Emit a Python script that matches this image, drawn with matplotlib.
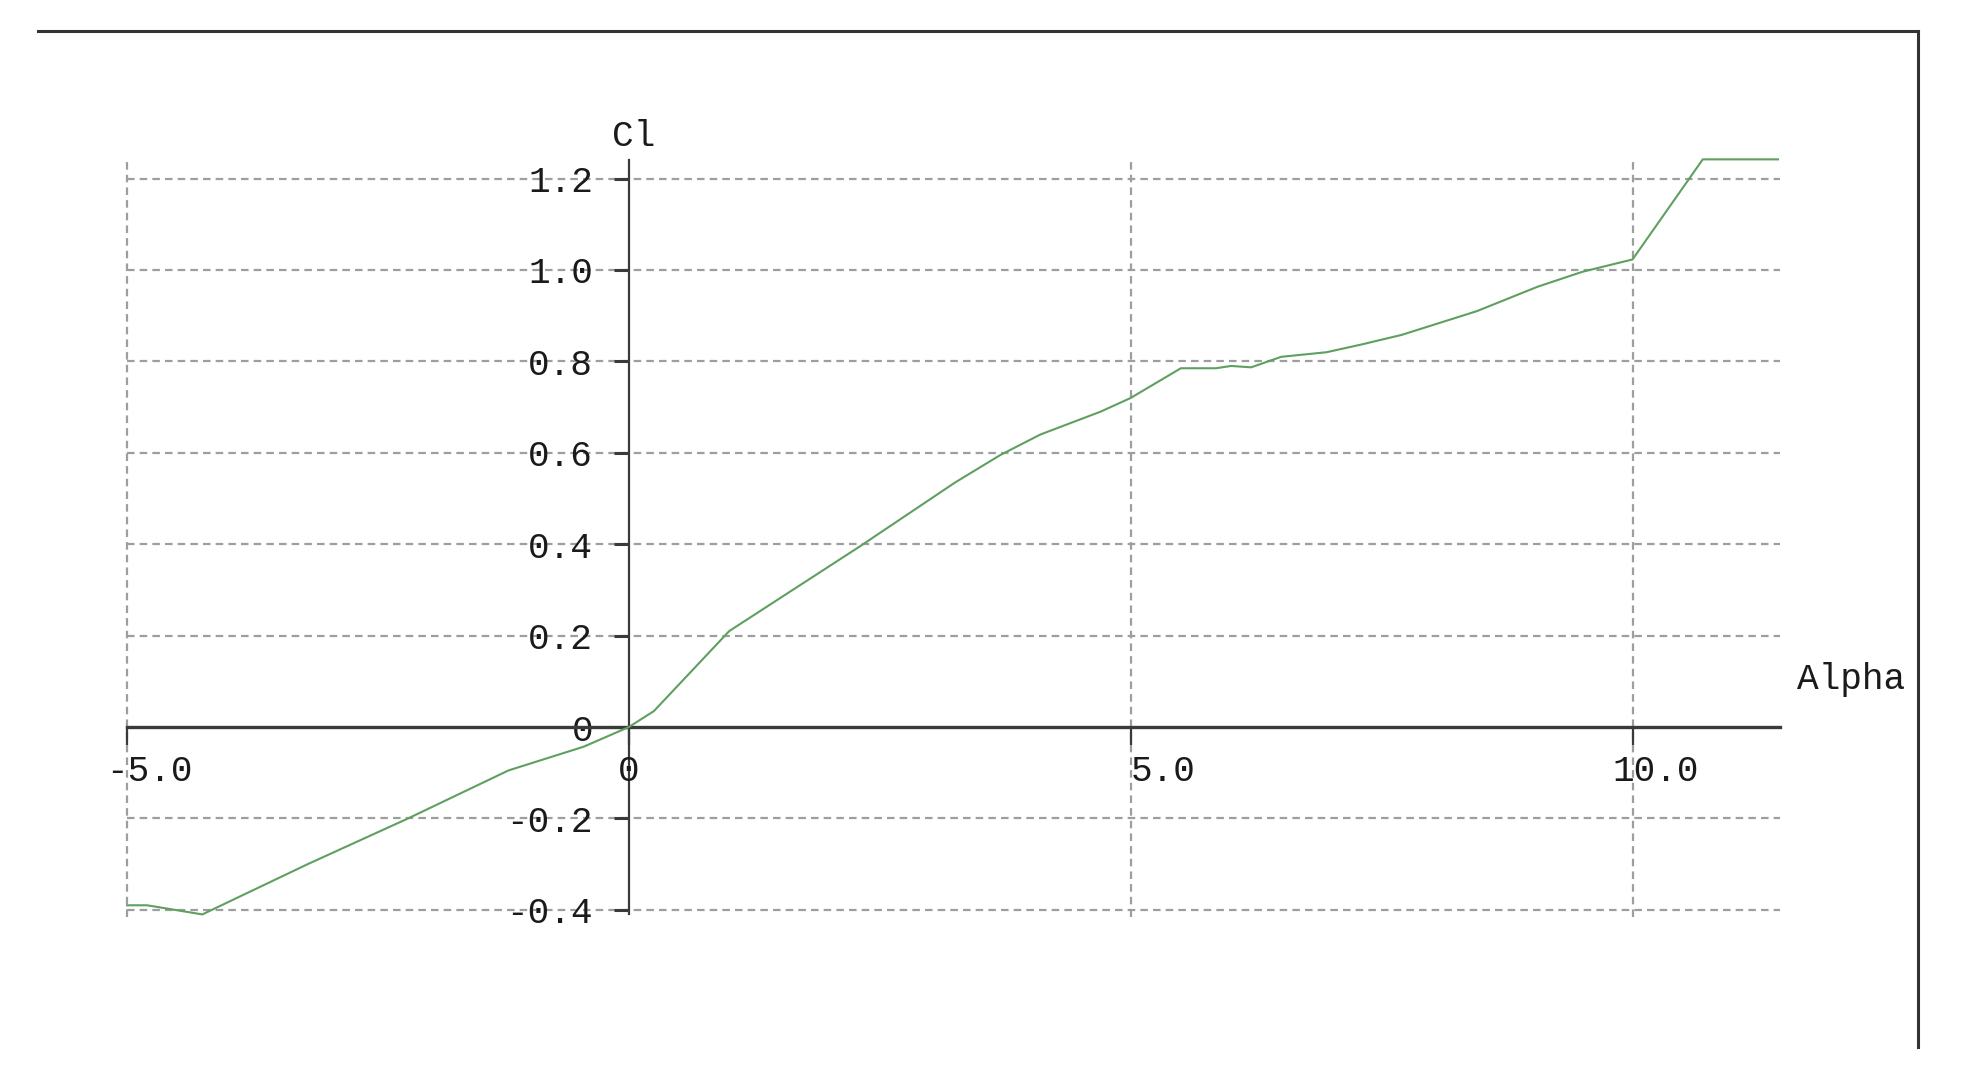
import matplotlib
matplotlib.use("Agg")
import matplotlib.pyplot as plt
from matplotlib.lines import Line2D

# lift coefficient vs angle of attack
alpha = [-5.0, -4.8, -4.25, -3.2, -2.2, -1.2, -0.45, 0.0, 0.25, 1.0, 2.3, 3.25,
         3.7, 4.1, 4.7, 5.0, 5.5, 5.85, 6.0, 6.2, 6.5, 6.95, 7.3, 7.7, 8.45,
         9.05, 9.5, 10.0, 10.7, 11.45]
cl = [-0.39, -0.39, -0.41, -0.30, -0.20, -0.095, -0.043, 0.0, 0.035, 0.21,
      0.395, 0.535, 0.595, 0.64, 0.69, 0.72, 0.785, 0.785, 0.79, 0.787, 0.81,
      0.82, 0.837, 0.858, 0.91, 0.963, 0.996, 1.023, 1.242, 1.242]

xticks = [-5.0, 0.0, 5.0, 10.0]
xticklabels = ["-5.0", "0", "5.0", "10.0"]
yticks = [-0.4, -0.2, 0.0, 0.2, 0.4, 0.6, 0.8, 1.0, 1.2]
yticklabels = ["-0.4", "-0.2", "0", "0.2", "0.4", "0.6", "0.8", "1.0", "1.2"]

plt.rcParams['font.family'] = ['Liberation Mono', 'DejaVu Sans Mono']

axis_col = '#3a3a3a'
grid_col = '#9e9e9e'
txt_col = '#1a1a1a'
fs = 26

fig = plt.figure(figsize=(19.73, 10.8), dpi=100)
ax = fig.add_axes([0.0644, 0.1512, 0.8378, 0.7025])
ax.set_xlim(-5.0, 11.47)
ax.set_ylim(-0.415, 1.245)

# grid (dashed grey)
for y in yticks:
    if y != 0:
        ax.axhline(y, color=grid_col, lw=1.6, ls=(0, (3.4, 2.3)), zorder=1)
for x in xticks:
    if x != 0:
        ax.axvline(x, color=grid_col, lw=1.6, ls=(0, (3.4, 2.3)), zorder=1,
                   clip_on=False)

# axes crossing at the origin
for s in ['top', 'right']:
    ax.spines[s].set_visible(False)
ax.spines['left'].set_position(('data', 0))
ax.spines['bottom'].set_position(('data', 0))
ax.spines['left'].set_bounds(-0.41, 1.24)
ax.spines['bottom'].set_bounds(-5.0, 11.47)
ax.spines['left'].set_color(axis_col)
ax.spines['bottom'].set_color(axis_col)
ax.spines['left'].set_linewidth(1.6)
ax.spines['bottom'].set_linewidth(2.4)

ax.set_yticks(yticks)
ax.set_yticklabels(yticklabels)
ax.set_xticks(xticks)
ax.tick_params(axis='y', direction='out', length=10.8, width=2.2,
               color=axis_col, pad=15, labelsize=fs, labelcolor=txt_col)
ax.tick_params(axis='x', direction='out', length=13, width=1.6,
               color=axis_col, labelbottom=False)

shift = {"-5.0": 22, "0": 0, "5.0": 32, "10.0": 23}
for v, lab in zip(xticks, xticklabels):
    ax.annotate(lab, (v, 0), xytext=(shift[lab], -44), textcoords='offset pixels',
                ha='center', va='center', fontsize=fs, color=txt_col)

ax.plot(alpha, cl, color='#5f9f5f', lw=1.5, zorder=3, clip_on=False)

# axis names
ax.annotate("Cl", (0, 1.245), xytext=(5, 22), textcoords='offset pixels',
            ha='center', va='center', fontsize=fs, color=txt_col,
            annotation_clip=False)
ax.annotate("Alpha", (11.47, 0), xytext=(17, 48), textcoords='offset pixels',
            ha='left', va='center', fontsize=fs, color=txt_col,
            annotation_clip=False)

# outer frame pieces
W, H = 1973.0, 1080.0
fig.add_artist(Line2D([38 / W, 1918 / W], [1 - 31 / H, 1 - 31 / H],
                      transform=fig.transFigure, color='#333333', lw=2.2))
fig.add_artist(Line2D([1918 / W, 1918 / W], [1 - 31 / H, 1 - 1047 / H],
                      transform=fig.transFigure, color='#333333', lw=2.2))

fig.savefig("out.png", dpi=100, facecolor='white')
